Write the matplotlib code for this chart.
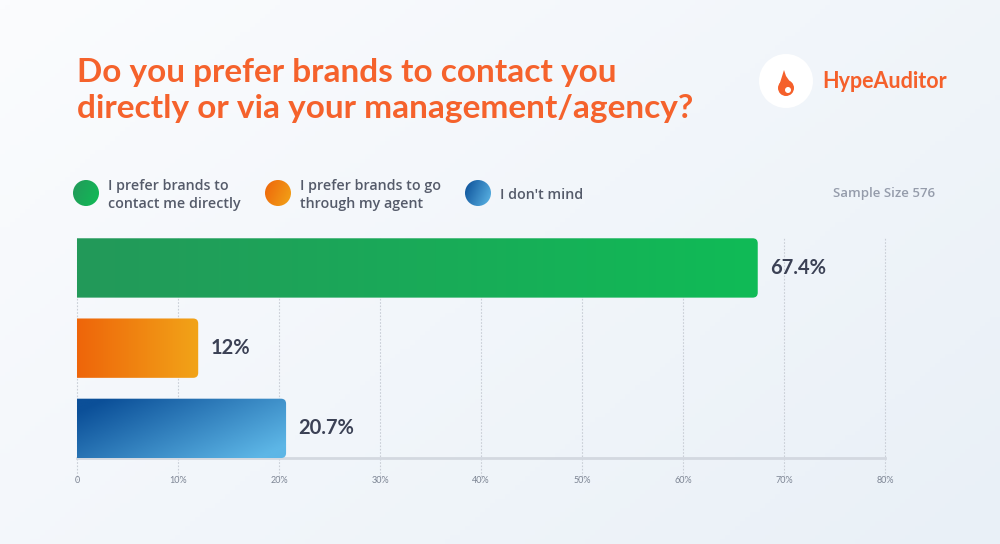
import matplotlib
matplotlib.use("Agg")
import matplotlib.pyplot as plt
import numpy as np
from matplotlib.patches import FancyBboxPatch, Circle, Polygon
from matplotlib.colors import LinearSegmentedColormap

title = "Do you prefer brands to contact you\ndirectly or via your management/agency?"
categories = ["I prefer brands to\ncontact me directly",
              "I prefer brands to go\nthrough my agent",
              "I don't mind"]
values = [67.4, 12, 20.7]
value_labels = ["67.4%", "12%", "20.7%"]
ticks = [0, 10, 20, 30, 40, 50, 60, 70, 80]
tick_labels = ["0", "10%", "20%", "30%", "40%", "50%", "60%", "70%", "80%"]
sample_text = "Sample Size 576"

plt.rcParams['font.family'] = ['Lato', 'DejaVu Sans']

grads = [
    ("#23995a", "#10bb56", "h"),
    ("#ee650a", "#f2a418", "h"),
    ("#0b4f98", "#5db6e6", "d"),
]

fig = plt.figure(figsize=(10, 5.44), dpi=100)

# background
bg = fig.add_axes([0, 0, 1, 1], zorder=-10)
gx, gy = np.meshgrid(np.linspace(0, 1, 200), np.linspace(0, 1, 120))
bg.imshow(gx * 0.6 + gy * 0.4, cmap=LinearSegmentedColormap.from_list("bg", ["#fbfcfe", "#e9f0f7"]),
          aspect="auto", extent=[0, 1, 0, 1], origin="upper")
bg.set_axis_off()

ax = fig.add_axes([0.077, 0.158, 0.808, 0.404])
ax.set_facecolor("none")
ax.set_xlim(0, 80)
ax.set_ylim(2.37, -0.37)

# grid lines (dotted, extend below axis)
for t in ticks:
    ax.axvline(t, ymin=-0.1, ymax=1, color="#c9ced6", lw=0.8, ls=(0, (1.5, 1.5)),
               clip_on=False, zorder=0)
ax.axhline(2.37, color="#d3d8e0", lw=2, zorder=1, clip_on=False)

ypos = np.arange(len(values))
bars = ax.barh(ypos, values, height=0.74, color="none")
aspect = (80 / 808) / (2.74 / 220)
for i, (b, (c0, c1, mode)) in enumerate(zip(bars, grads)):
    x0, y0 = b.get_x(), b.get_y()
    w, h = b.get_width(), b.get_height()
    patch = FancyBboxPatch((x0 - 2, y0), w + 2, h,
                           boxstyle="round,pad=0,rounding_size=0.5",
                           mutation_aspect=1 / aspect, fc="none", ec="none")
    ax.add_patch(patch)
    cmap = LinearSegmentedColormap.from_list("g", [c0, c1])
    xx, yy = np.meshgrid(np.linspace(0, 1, 200), np.linspace(0, 1, 50))
    if mode == "h":
        z = xx
    else:
        z = np.clip(xx * 0.75 + yy * 0.45 - 0.1, 0, 1)
    im = ax.imshow(z, cmap=cmap, aspect="auto", extent=[x0, x0 + w, y0 + h, y0],
                   origin="upper", zorder=2, interpolation="bilinear")
    im.set_clip_path(patch)
    ax.text(x0 + w + 1.2, y0 + h / 2, value_labels[i], va="center",
            ha="left", fontsize=14.5, fontweight="bold", color="#3b4155")

ax.set_xlim(0, 80)
ax.set_ylim(2.37, -0.37)
ax.set_xticks(ticks)
ax.set_xticklabels(tick_labels, fontsize=6.5, color="#7d8594")
ax.tick_params(axis="x", length=0, pad=13)
ax.set_yticks([])
for s in ax.spines.values():
    s.set_visible(False)

# title
fig.text(0.077, 0.833, title, fontsize=24, fontweight="bold", color="#f5622c",
         va="center", ha="left", linespacing=1.3)

# logo
la = fig.add_axes([0, 0, 1, 1], zorder=5)
la.set_xlim(0, 1000)
la.set_ylim(544, 0)
la.set_axis_off()
la.add_patch(Circle((786, 81), 27, fc="white", ec="none"))
la.add_patch(Circle((786, 88), 8, fc="#f5602b", ec="none"))
la.add_patch(Polygon([[779, 86], [784, 70], [786, 76], [793, 86]], closed=True, fc="#f5602b", ec="none"))
la.add_patch(Circle((788, 90), 3, fc="white", ec="none"))
la.text(822, 81, "HypeAuditor", fontsize=15.5, fontweight="bold", color="#f5602b", va="center", ha="left")

# legend
leg_x = [86, 278, 478]
leg_colors = [("#23995a", "#10bb56"), ("#ee650a", "#f2a418"), ("#0b4f98", "#5db6e6")]
for lx, lab, (c0, c1) in zip(leg_x, categories, leg_colors):
    circ = Circle((lx, 193), 13, fc="none", ec="none")
    la.add_patch(circ)
    xx, yy = np.meshgrid(np.linspace(0, 1, 40), np.linspace(0, 1, 40))
    im = la.imshow(xx * 0.7 + yy * 0.3, cmap=LinearSegmentedColormap.from_list("l", [c0, c1]),
                   extent=[lx - 13, lx + 13, 206, 180], aspect="auto", origin="upper")
    im.set_clip_path(circ)
    la.text(lx + 22, 195, lab, fontsize=10.3, fontweight="semibold", color="#555b6a",
            va="center", ha="left", linespacing=1.45, family=["Open Sans", "DejaVu Sans"])
la.set_xlim(0, 1000)
la.set_ylim(544, 0)

la.text(935, 194, sample_text, fontsize=9.5, fontweight="semibold", color="#959cab",
        va="center", ha="right", family=["Open Sans", "DejaVu Sans"])

fig.savefig("out.png", dpi=100)
